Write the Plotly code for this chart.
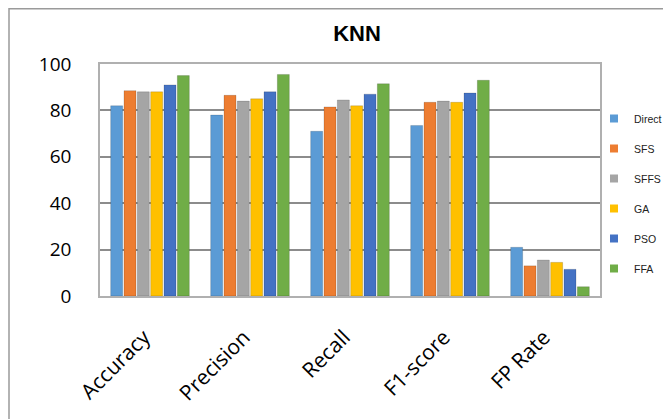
import plotly.graph_objects as go

categories = ["Accuracy", "Precision", "Recall", "F1-score", "FP Rate"]
methods = ["Direct", "SFS", "SFFS", "GA", "PSO", "FFA"]
direct = [82, 78, 71, 73.5, 21]
sfs = [88.5, 86.5, 81.5, 83.5, 13]
sffs = [88, 84, 84.5, 84, 15.5]
ga = [88, 85, 82, 83.5, 14.5]
pso = [91, 88, 87, 87.5, 11.5]
ffa = [95, 95.5, 91.5, 93, 4]
series = [direct, sfs, sffs, ga, pso, ffa]
colors = ["#5B9BD5", "#ED7D31", "#A5A5A5", "#FFC000", "#4472C4", "#70AD47"]
y_ticks = [0, 20, 40, 60, 80, 100]

fig = go.Figure()
for i, (name, vals) in enumerate(zip(methods, series)):
    fig.add_trace(go.Bar(
        x=categories, y=vals, name=name,
        marker=dict(color=colors[i], line=dict(color="rgba(0,0,0,0.15)", width=1)),
        legendgroup=name, showlegend=False,
    ))
# legend entries (small square keys, as in the original)
for i, name in enumerate(methods):
    fig.add_trace(go.Scatter(
        x=[None], y=[None], mode="markers", name=name, legendgroup=name,
        marker=dict(symbol="square", size=8, color=colors[i]),
    ))

# page body margin offsets the figure by 8px
OFF = 8
W, H = 671, 419
# desired plot area in screen pixels
SX0, SX1, SY0, SY1 = 100, 600, 64, 296
L = SX0 - OFF
R = W - (SX1 - OFF)
T = SY0 - OFF
B = H - (SY1 - OFF)
pw, ph = W - L - R, H - T - B

def px_x(sx):
    return (sx - OFF - L) / pw

def px_y(sy):
    return (H - B - (sy - OFF)) / ph

fig.update_layout(
    width=W, height=H,
    margin=dict(l=L, r=R, t=T, b=B, autoexpand=False),
    paper_bgcolor="white", plot_bgcolor="white",
    barmode="group", bargap=0.2, bargroupgap=0.1,
    font=dict(family="Open Sans, Liberation Sans, sans-serif", color="#000000"),
    title=dict(text="<b>KNN</b>", x=(357 - OFF) / W, xanchor="center",
               y=1 - (33 - OFF) / H, yanchor="middle", yref="container", xref="container",
               font=dict(size=22, family="Liberation Sans, Arial, sans-serif", color="#000000")),
    xaxis=dict(
        tickangle=-45, tickfont=dict(size=21),
        showline=True, linecolor="#b0b0b0", linewidth=1.5, mirror=True,
        showgrid=False, ticks="", ticklabelstandoff=19, ticklabelshift=-6,
    ),
    yaxis=dict(
        range=[0, 100], tickvals=y_ticks, tickfont=dict(size=19),
        showgrid=True, gridcolor="#8c8c8c", gridwidth=1.5,
        showline=True, linecolor="#b0b0b0", linewidth=1.5, mirror=True,
        ticks="outside", ticklen=23, tickcolor="rgba(0,0,0,0)",
        zeroline=False,
    ),
    legend=dict(
        x=px_x(594), xanchor="left", y=px_y(104), yanchor="top",
        font=dict(size=10.5, family="Liberation Sans, Arial, sans-serif", color="#222222"),
        tracegroupgap=11, itemwidth=30, bgcolor="rgba(0,0,0,0)",
    ),
    shapes=[dict(
        type="rect", xref="paper", yref="paper",
        x0=px_x(9), x1=px_x(720), y0=px_y(460), y1=px_y(8.8),
        line=dict(color="#9a9a9a", width=1.5), fillcolor="rgba(0,0,0,0)", layer="below",
    )],
)

fig.write_html("out.html")
